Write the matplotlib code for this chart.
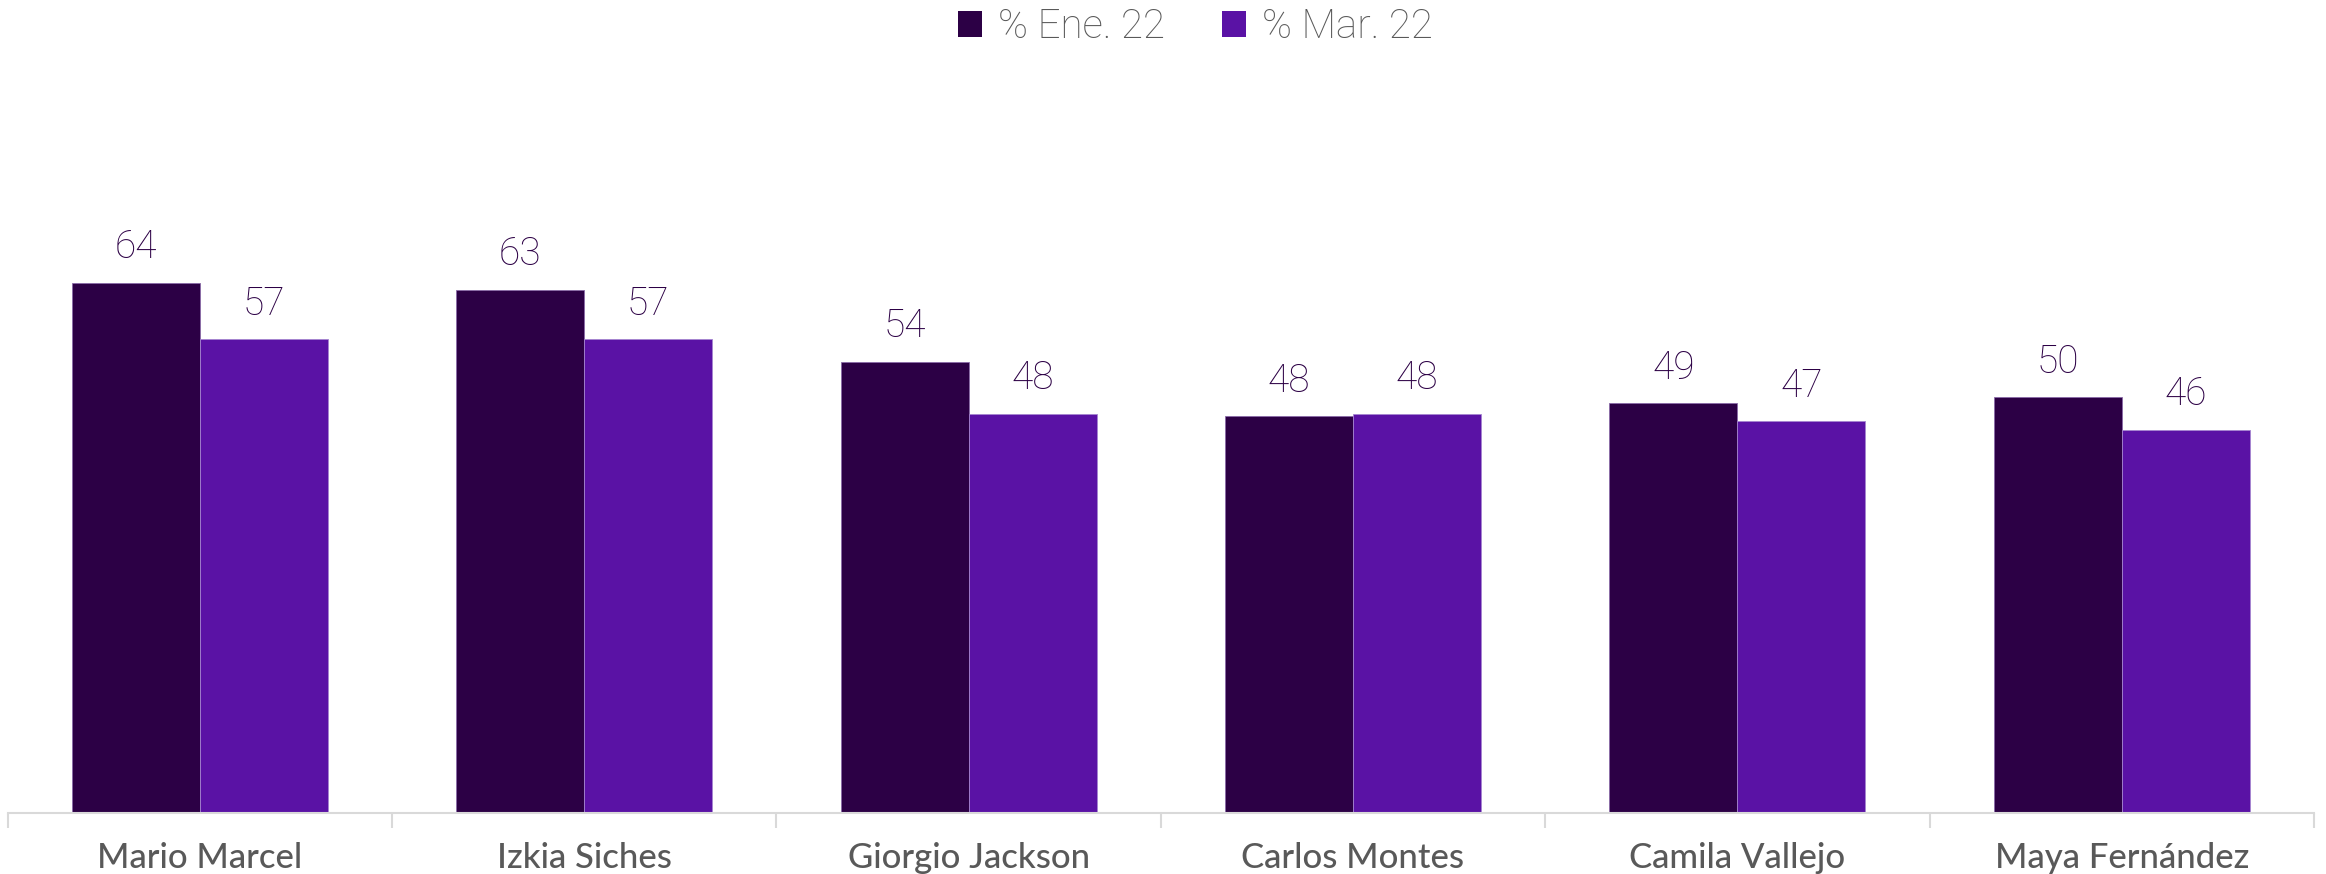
import matplotlib.pyplot as plt
import numpy as np

categorias = ['Mario Marcel', 'Izkia Siches', 'Giorgio Jackson', 'Carlos Montes',
              'Camila Vallejo', 'Maya Fernández']
ene_22 = [63.8, 62.9, 54.3, 47.7, 49.3, 50.0]
mar_22 = [57.0, 57.0, 48.0, 48.0, 47.1, 46.1]
series = ['% Ene. 22', '% Mar. 22']
colores = ['#2C0045', '#5A12A5']

fig = plt.figure(figsize=(23.26, 8.74), dpi=100)
ax = fig.add_axes([0.00327, 0.0698, 0.99153, 0.7609])

x = np.arange(len(categorias))
ancho = 0.333
b1 = ax.bar(x - ancho / 2, ene_22, ancho, color=colores[0], label=series[0],
            edgecolor='#8a6aa8', linewidth=0.6)
b2 = ax.bar(x + ancho / 2, mar_22, ancho, color=colores[1], label=series[1],
            edgecolor='#a585d0', linewidth=0.6)

for barras in (b1, b2):
    for b in barras:
        ax.text(b.get_x() + b.get_width() / 2, b.get_height() + 2.0,
                f'{b.get_height():.0f}', ha='center', va='bottom',
                fontsize=28, color='#2C0045', family='Roboto', fontweight='light')

ax.set_xlim(-0.5, len(categorias) - 0.5)
ax.set_ylim(0, 80)
ax.set_yticks([])
for s in ['top', 'right', 'left']:
    ax.spines[s].set_visible(False)
ax.spines['bottom'].set_color('#D9D9D9')
ax.spines['bottom'].set_linewidth(1.5)

ax.set_xticks(x)
ax.set_xticklabels(categorias, fontsize=25, color='#595959', family='Lato',
                   fontweight='medium')
ax.tick_params(axis='x', which='major', length=0, pad=21)
ax.set_xticks(np.arange(-0.5, len(categorias)), minor=True)
ax.tick_params(axis='x', which='minor', length=11, width=1.5, color='#D9D9D9')

leg = fig.legend(handles=[b1, b2], labels=series, loc='center',
                 bbox_to_anchor=(0.514, 0.969), ncol=2, frameon=False,
                 prop={'family': 'Roboto', 'weight': 'light', 'size': 29},
                 handlelength=0.6, handleheight=0.6, handletextpad=0.4,
                 columnspacing=1.4)
for t in leg.get_texts():
    t.set_color('#595959')
for h in leg.legend_handles:
    h.set_linewidth(0)

fig.savefig('out.png', dpi=100)
